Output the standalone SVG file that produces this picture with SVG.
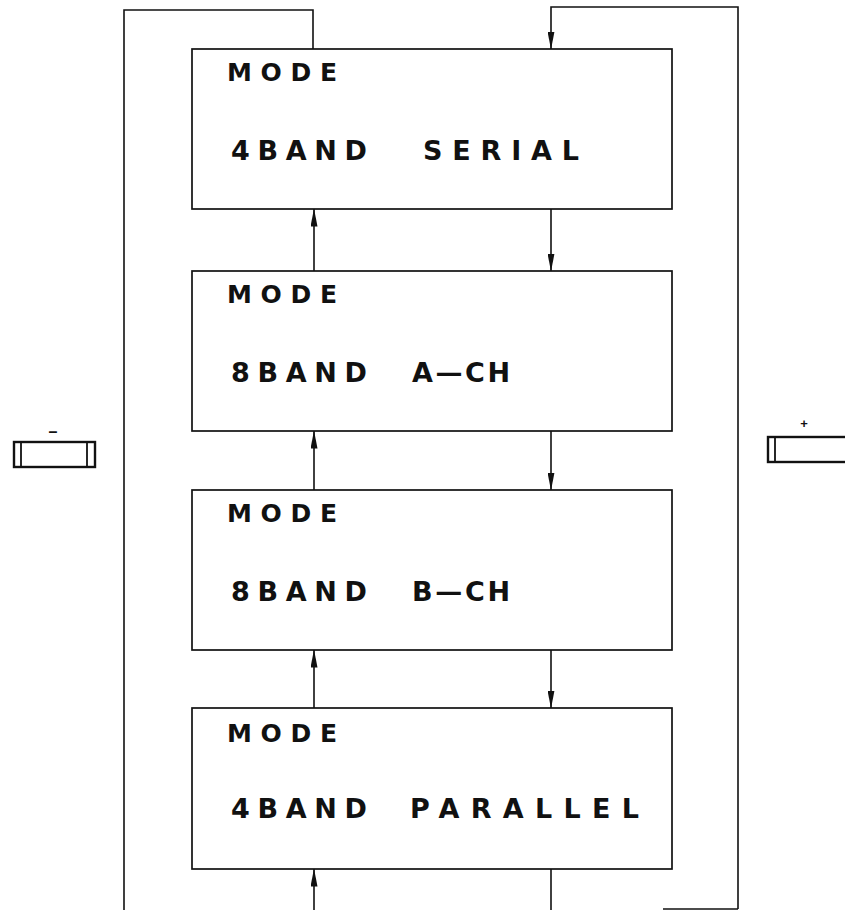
<svg xmlns="http://www.w3.org/2000/svg" width="845" height="910" viewBox="0 0 845 910">
  <style>
    .box { fill: #fff; stroke: #111; stroke-width: 1.7; }
    .wire { fill: none; stroke: #111; stroke-width: 1.6; }
    .lbl { font-family: "DejaVu Sans", "Liberation Sans", Arial, sans-serif; font-weight: bold; fill: #111; }
    .small { font-size: 25px; }
    .big { font-size: 27px; }
    .key { fill: #fff; stroke: #111; stroke-width: 2.4; }
    .cap { fill: none; stroke: #111; stroke-width: 1.8; }
    .sign { font-family: "Liberation Sans", Arial, sans-serif; font-weight: bold; fill: #111; }
  </style>
  <defs>
    <marker id="arrow" viewBox="0 0 18 7" refX="17.5" refY="3.5" markerWidth="18" markerHeight="7" markerUnits="userSpaceOnUse" orient="auto">
      <path d="M0,0 L18,3.5 L0,7 Z" fill="#111"/>
    </marker>
  </defs>

  <rect width="845" height="910" fill="#fff"/>

  <!-- connectors: outer loop and the up/down steps between modes -->
  <g id="connectors">
    <path class="wire" d="M313,49 V10 H124 V910"/>
    <path class="wire" d="M738,909 V7 H551 V49" marker-end="url(#arrow)"/>
    <path class="wire" d="M663,909 H738"/>
    <path class="wire" d="M314,271 V209" marker-end="url(#arrow)"/>
    <path class="wire" d="M551,209 V271" marker-end="url(#arrow)"/>
    <path class="wire" d="M314,490 V431" marker-end="url(#arrow)"/>
    <path class="wire" d="M551,431 V490" marker-end="url(#arrow)"/>
    <path class="wire" d="M314,708 V650" marker-end="url(#arrow)"/>
    <path class="wire" d="M551,650 V708" marker-end="url(#arrow)"/>
    <path class="wire" d="M314,910 V869" marker-end="url(#arrow)"/>
    <path class="wire" d="M551,869 V910"/>
  </g>

  <g id="mode-4band-serial">
    <rect class="box" x="192" y="49" width="480" height="160"/>
    <text class="lbl small" x="227" y="81" textLength="110" lengthAdjust="spacing">MODE</text>
    <text class="lbl big" x="231" y="160" textLength="136" lengthAdjust="spacing">4BAND</text>
    <text class="lbl big" x="423" y="160" textLength="156" lengthAdjust="spacing">SERIAL</text>
  </g>

  <g id="mode-8band-a">
    <rect class="box" x="192" y="271" width="480" height="160"/>
    <text class="lbl small" x="227" y="303" textLength="110" lengthAdjust="spacing">MODE</text>
    <text class="lbl big" x="231" y="382" textLength="136" lengthAdjust="spacing">8BAND</text>
    <text class="lbl big" x="412" y="382" textLength="98" lengthAdjust="spacing">A—CH</text>
  </g>

  <g id="mode-8band-b">
    <rect class="box" x="192" y="490" width="480" height="160"/>
    <text class="lbl small" x="227" y="522" textLength="110" lengthAdjust="spacing">MODE</text>
    <text class="lbl big" x="231" y="601" textLength="136" lengthAdjust="spacing">8BAND</text>
    <text class="lbl big" x="412" y="601" textLength="98" lengthAdjust="spacing">B—CH</text>
  </g>

  <g id="mode-4band-parallel">
    <rect class="box" x="192" y="708" width="480" height="161"/>
    <text class="lbl small" x="227" y="742" textLength="110" lengthAdjust="spacing">MODE</text>
    <text class="lbl big" x="231" y="818" textLength="136" lengthAdjust="spacing">4BAND</text>
    <text class="lbl big" x="410" y="818" textLength="229" lengthAdjust="spacing">PARALLEL</text>
  </g>

  <!-- minus key -->
  <g id="key-minus">
    <rect class="key" x="14" y="442" width="81" height="25"/>
    <line class="cap" x1="21" y1="442" x2="21" y2="467"/>
    <line class="cap" x1="87" y1="442" x2="87" y2="467"/>
    <text class="sign" x="53" y="437" font-size="16" text-anchor="middle">–</text>
  </g>

  <!-- plus key -->
  <g id="key-plus">
    <rect class="key" x="768" y="437" width="84" height="25"/>
    <line class="cap" x1="775" y1="437" x2="775" y2="462"/>
    <text class="sign" x="804" y="428" font-size="13" text-anchor="middle">+</text>
  </g>
</svg>
